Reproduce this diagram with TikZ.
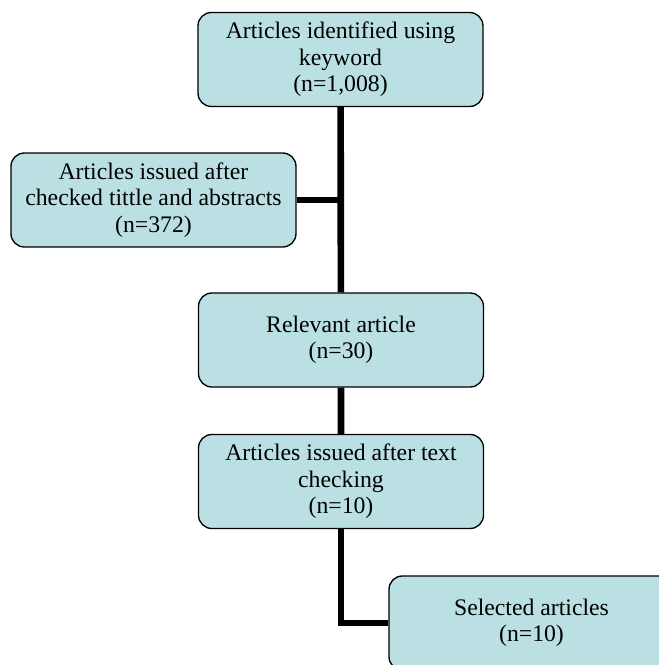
\documentclass[tikz,border=0pt]{standalone}
\usepackage{fontspec}
\setmainfont{Liberation Serif}
\definecolor{boxfill}{RGB}{186,224,227}
\tikzset{
  flow box/.style={
    rounded corners=10pt,
    draw,
    line width=1pt,
    fill=boxfill,
    align=center,
    minimum width=213.75pt,
    minimum height=70.5pt,
    inner sep=0pt,
    font=\fontsize{17.8}{19.8}\selectfont,
  },
  flow line/.style={line width=5pt},
}
\begin{document}
\begin{tikzpicture}[x=0.75pt, y=-0.75pt]
      \useasboundingbox (0,0) rectangle (659,665);
      \node[flow box] (keyword) at (340.5,59.5) {Articles identified using\\keyword\\(n=1,008)};
      \node[flow box] (abstracts) at (153.5,200) {Articles issued after\\checked tittle and abstracts\\(n=372)};
      \node[flow box] (relevant) at (341,340) {Relevant article\\(n=30)};
      \node[flow box] (textcheck) at (341,481.5) {Articles issued after text\\checking\\(n=10)};
      \node[flow box] (selected) at (531.5,623) {Selected articles\\(n=10)};

      \draw[flow line] (keyword) -- (relevant) -- (textcheck);
      \draw[flow line] (abstracts.east) -- (abstracts.east -| keyword.south);
      \draw[flow line] (textcheck.south) |- (selected.west);
    \end{tikzpicture}
\end{document}
